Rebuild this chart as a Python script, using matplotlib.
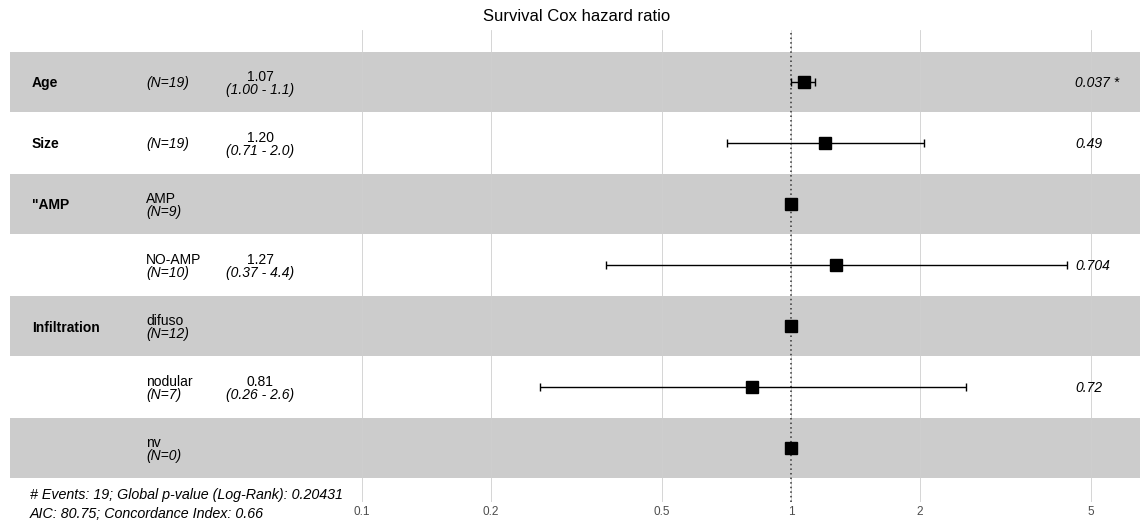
import numpy as np
import matplotlib
matplotlib.use('Agg')
import matplotlib.pyplot as plt

plt.rcParams['font.family'] = ['Liberation Sans', 'DejaVu Sans']

# data
variables = ['Age', 'Size', '"AMP', '', 'Infiltration', '', '']
levels = ['', '', 'AMP', 'NO-AMP', 'difuso', 'nodular', 'nv']
n_obs = [19, 19, 9, 10, 12, 7, 0]
hr = [1.07, 1.20, 1.0, 1.27, 1.0, 0.81, 1.0]
ci_low = [1.00, 0.71, np.nan, 0.37, np.nan, 0.26, np.nan]
ci_high = [1.14, 2.04, np.nan, 4.4, np.nan, 2.56, np.nan]
hr_labels = ['1.07', '1.20', '', '1.27', '', '0.81', '']
ci_labels = ['(1.00 - 1.1)', '(0.71 - 2.0)', '', '(0.37 - 4.4)', '', '(0.26 - 2.6)', '']
p_labels = ['0.037 *', '0.49', '', '0.704', '', '0.72', '']
ticks = [0.1, 0.2, 0.5, 1, 2, 5]
footer = ['# Events: 19; Global p-value (Log-Rank): 0.20431',
          'AIC: 80.75; Concordance Index: 0.66']

W, H = 1140, 522
fig = plt.figure(figsize=(W / 100, H / 100), dpi=100)

# panel in pixels: x 10..1140, y 30..502
px_l, px_r, px_t, px_b = 10, 1140, 30, 502
ax = fig.add_axes([px_l / W, 1 - px_b / H, (px_r - px_l) / W, (px_b - px_t) / H])

# log scale: 1 at px 791, one decade = 429 px
decade = 429.0
xmin = 10 ** ((px_l - 791) / decade)
xmax = 10 ** ((px_r - 791) / decade)
ax.set_xscale('log')
ax.set_xlim(xmin, xmax)

nrow = len(hr)
row_h = 61.0
first_c = 82.0
ax.set_ylim((px_b - first_c) / row_h, (px_t - first_c) / row_h)

# stripes
for i in range(nrow):
    if i % 2 == 0:
        ax.axhspan(i - 0.49, i + 0.49, color='#cccccc', lw=0, zorder=0)

# grid lines
for t in ticks:
    ax.axvline(t, color='#cfcfcf', lw=0.6, zorder=0.5)
ax.axvline(1, color='#333333', lw=1.1, ls=(0, (1, 2)), zorder=1)

y = np.arange(nrow)
hr_a = np.array(hr)
lo = np.array(ci_low)
hi = np.array(ci_high)
has_ci = ~np.isnan(lo)
ax.errorbar(hr_a[has_ci], y[has_ci],
            xerr=[hr_a[has_ci] - lo[has_ci], hi[has_ci] - hr_a[has_ci]],
            fmt='none', ecolor='black', elinewidth=1.0, capsize=3, capthick=1.0, zorder=2)
ax.plot(hr_a, y, 's', color='black', markersize=8.5, zorder=3)

ax.set_xticks(ticks)
ax.set_xticklabels([f'{t:g}' for t in ticks])
ax.xaxis.set_minor_locator(matplotlib.ticker.NullLocator())
ax.tick_params(axis='x', length=0, labelsize=8.5, labelcolor='#4d4d4d', pad=3)
ax.set_yticks([])
for s in ax.spines.values():
    s.set_visible(False)

tr = ax.get_yaxis_transform()
def fx(px):
    return (px - px_l) / (px_r - px_l)

off = 0.105
fs = 10
va = 'center_baseline'
for i in range(nrow):
    if variables[i]:
        ax.text(fx(32), i, variables[i], transform=tr, ha='left', va=va,
                fontsize=fs, fontweight='bold')
    if levels[i]:
        ax.text(fx(146), i - off, levels[i], transform=tr, ha='left', va=va, fontsize=fs)
        ax.text(fx(146), i + off, f'(N={n_obs[i]})', transform=tr, ha='left', va=va,
                fontsize=fs, style='italic')
    else:
        ax.text(fx(146), i, f'(N={n_obs[i]})', transform=tr, ha='left', va=va,
                fontsize=fs, style='italic')
    if hr_labels[i]:
        ax.text(fx(260), i - off, hr_labels[i], transform=tr, ha='center', va=va, fontsize=fs)
        ax.text(fx(260), i + off, ci_labels[i], transform=tr, ha='center', va=va,
                fontsize=fs, style='italic')
    if p_labels[i]:
        ax.text(fx(1075), i, p_labels[i], transform=tr, ha='left', va=va,
                fontsize=fs, style='italic')

fig.text(30 / W, 1 - 493 / H, footer[0], ha='left', va=va, fontsize=10.3, style='italic')
fig.text(30 / W, 1 - 512 / H, footer[1], ha='left', va=va, fontsize=10.3, style='italic')
fig.text(577 / W, 1 - 15 / H, 'Survival Cox hazard ratio', ha='center', va=va, fontsize=12)

fig.savefig('out.png', dpi=100)
